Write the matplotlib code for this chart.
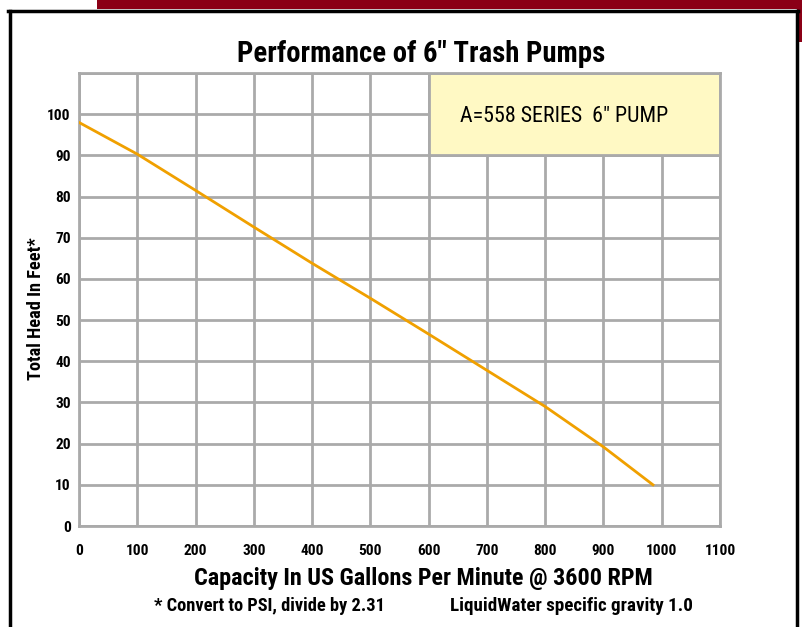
import matplotlib
matplotlib.use("Agg")
import matplotlib.pyplot as plt
from matplotlib.patches import Rectangle
from matplotlib import font_manager

# Data
capacity_gpm = [0, 100, 200, 300, 400, 500, 600, 700, 800, 900, 985]
head_ft = [98, 90.3, 81.5, 72.6, 63.8, 55.3, 46.6, 37.8, 29.0, 19.2, 10]
x_ticks = [0, 100, 200, 300, 400, 500, 600, 700, 800, 900, 1000, 1100]
y_ticks = [0, 10, 20, 30, 40, 50, 60, 70, 80, 90, 100]
legend_text = 'A=558 SERIES  6" PUMP'

names = sorted({f.name for f in font_manager.fontManager.ttflist})
preferred = ['Roboto Condensed', 'Liberation Sans Narrow', 'Open Sans Condensed',
             'Noto Sans Condensed', 'DejaVu Sans Condensed', 'Roboto', 'Liberation Sans']
main = next((n for n in preferred if n in names), 'DejaVu Sans')
narrow = [n for n in names if 'Condensed' in n or 'Narrow' in n]
if narrow and main not in ('Roboto Condensed', 'Liberation Sans Narrow'):
    main = narrow[0]
FONT = [main, 'DejaVu Sans']
plt.rcParams['font.family'] = FONT

W, H = 802, 627
fig = plt.figure(figsize=(W / 100, H / 100), dpi=100)

def fx(px):
    return px / W

def fy(py):
    return 1 - py / H

# Decorative frame
fig.patches.append(Rectangle((fx(97), fy(9)), fx(802) - fx(97), fy(0) - fy(9),
                             transform=fig.transFigure, fc='#8B0016', ec='none', zorder=0))
fig.patches.append(Rectangle((fx(797), fy(42)), fx(802) - fx(797), fy(0) - fy(42),
                             transform=fig.transFigure, fc='#8B0016', ec='none', zorder=0))
fig.lines.append(plt.Line2D([fx(9.5), fx(9.5)], [fy(10.5), fy(640)], transform=fig.transFigure,
                            color='black', lw=2.5))
fig.lines.append(plt.Line2D([fx(797), fx(797)], [fy(10.5), fy(640)], transform=fig.transFigure,
                            color='black', lw=2.5))
fig.lines.append(plt.Line2D([fx(8), fx(798)], [fy(10.5), fy(10.5)], transform=fig.transFigure,
                            color='black', lw=2.5))

ax = fig.add_axes([fx(79), fy(526), fx(720) - fx(79), fy(73) - fy(526)])
ax.set_xlim(0, 1100)
ax.set_ylim(0, 110)

grid_c = '#aaaaaa'
for xv in x_ticks:
    ax.axvline(xv, color=grid_c, lw=2, zorder=1)
for yv in y_ticks + [110]:
    ax.axhline(yv, color=grid_c, lw=2, zorder=1)
for s in ax.spines.values():
    s.set_color(grid_c)
    s.set_linewidth(2)

ax.add_patch(Rectangle((600, 90), 500, 20, fc='#FFF9C4', ec=grid_c, lw=2, zorder=2))
ax.plot(capacity_gpm, head_ft, color='#F0A000', lw=2, zorder=4)

ax.set_xticks(x_ticks)
ax.set_yticks(y_ticks)
ax.tick_params(length=0, pad=6)
ax.tick_params(axis='x', pad=13)

texts = []
t = ax.text(832, 99.5, legend_text, ha='center', va='center', fontsize=13.5, zorder=3)
texts.append((t, None, 208))
texts.append((fig.text(fx(421), fy(54), 'Performance of 6" Trash Pumps', ha='center', va='center',
                       fontsize=19, fontweight='bold'), None, 369))
texts.append((fig.text(fx(36), fy(309), 'Total Head In Feet*', ha='center', va='center', rotation=90,
                       fontsize=11, fontweight='bold'), None, 142))
texts.append((fig.text(fx(423), fy(579), 'Capacity In US Gallons Per Minute @ 3600 RPM', ha='center',
                       va='center', fontsize=16, fontweight='bold'), None, 460))
texts.append((fig.text(fx(269), fy(606), '* Convert to PSI, divide by 2.31', ha='center', va='center',
                       fontsize=11.5, fontweight='bold'), None, 232))
texts.append((fig.text(fx(571), fy(606), 'LiquidWater specific gravity 1.0', ha='center', va='center',
                       fontsize=11.5, fontweight='bold'), None, 243))

ax.set_xticklabels([str(v) for v in x_ticks], fontweight='bold', fontsize=10.5)
ax.set_yticklabels([str(v) for v in y_ticks], fontweight='bold', fontsize=10.5)

# fit text widths to the reference layout
fig.canvas.draw()
r = fig.canvas.get_renderer()
for t, _, target in texts:
    bb = t.get_window_extent(r)
    size = max(bb.width, bb.height) if t.get_rotation() else bb.width
    t.set_fontsize(t.get_fontsize() * target / size)
# tick labels: "1000" spans ~31 px in the reference
lab = ax.get_xticklabels()[10]
w = lab.get_window_extent(r).width
tsz = 10.5 * 31 / w
for l in ax.get_xticklabels() + ax.get_yticklabels():
    l.set_fontsize(tsz)

fig.savefig('out.png', dpi=100)
